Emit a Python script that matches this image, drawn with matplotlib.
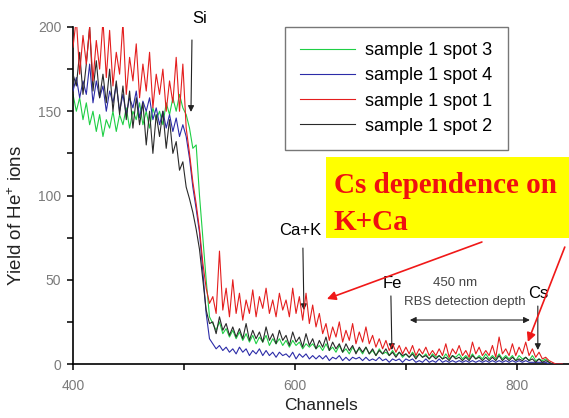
import numpy as np
import matplotlib
matplotlib.use("Agg")
import matplotlib.pyplot as plt
from matplotlib.patches import Rectangle
from matplotlib.ticker import MultipleLocator

plt.rcParams['font.family'] = ['Liberation Sans', 'DejaVu Sans']
plt.rcParams['mathtext.default'] = 'regular'

# RBS spectra, one value every 3 channels starting at channel 400
first_channel = 400
channel_step = 3

spot3 = [  # green
    160, 150, 158, 145, 155, 142, 150, 138, 148, 135,
    145, 140, 150, 138, 148, 142, 152, 140, 150, 145,
    155, 142, 150, 140, 152, 145, 150, 142, 155, 148,
    158, 150, 160, 152,
    148, 140, 128, 130, 100, 75, 50, 28,
    24, 20, 25, 18, 21, 16, 20, 15, 19, 14,
    18, 13, 17, 12, 16, 13, 17, 11, 15, 12,
    15, 11, 14, 10, 14, 11, 13, 9, 12, 10,
    12, 9, 11, 8, 12, 8, 10, 7, 11, 7,
    9, 6, 10, 7, 9, 6, 10, 6, 8, 5,
    9, 6, 7, 5, 8, 5, 7, 4, 6, 4,
    7, 4, 6, 4, 6, 3, 6, 4, 5, 3,
    6, 3, 5, 4, 6, 3, 5, 3, 6, 3,
    5, 3, 6, 3, 5, 3, 6, 3, 5, 3,
    5, 2, 5, 3, 4, 2, 5, 2, 3, 2,
    3, 1, 0, 0, 0, 0,
]

spot4 = [  # blue
    162, 170, 158, 168, 160, 178, 155, 168, 158, 165,
    150, 162, 155, 166, 150, 160, 148, 158, 152, 162,
    146, 156, 150, 158, 145, 152, 142, 150, 140, 148,
    138, 146, 135, 142,
    135, 122, 105, 92, 78, 55, 30, 15,
    12, 9, 11, 8, 10, 7, 9, 6, 10, 7,
    9, 5, 8, 6, 9, 5, 8, 5, 7, 4,
    7, 5, 6, 4, 7, 3, 6, 4, 6, 3,
    5, 3, 5, 3, 5, 2, 4, 3, 5, 2,
    4, 2, 4, 3, 4, 2, 4, 2, 3, 2,
    4, 2, 3, 1, 3, 2, 3, 1, 3, 2,
    3, 1, 2, 1, 3, 1, 2, 1, 3, 1,
    2, 1, 2, 1, 2, 1, 2, 1, 2, 1,
    2, 1, 2, 1, 2, 1, 2, 1, 2, 1,
    2, 1, 2, 1, 2, 1, 1, 1, 1, 1,
    1, 0, 0, 0, 0, 0,
]

spot1 = [  # red
    188, 205, 172, 195, 178, 200, 168, 192, 175, 204,
    170, 198, 165, 185, 172, 203, 160, 182, 168, 190,
    158, 178, 162, 185, 152, 172, 160, 175, 150, 168,
    155, 182, 150, 178,
    140, 125, 108, 95, 80, 60, 45, 36,
    40, 30, 67, 32, 45, 28, 50, 30, 42, 26,
    38, 30, 44, 28, 40, 33, 45, 30, 38, 28,
    42, 32, 38, 28, 45, 30, 40, 26, 42, 24,
    35, 22, 30, 18, 24, 14, 22, 16, 25, 13,
    20, 14, 24, 12, 19, 13, 22, 12, 17, 10,
    15, 9, 14, 8, 12, 7, 11, 6, 10, 6,
    11, 5, 9, 6, 10, 5, 8, 5, 9, 5,
    12, 4, 9, 6, 11, 5, 8, 4, 13, 6,
    10, 5, 8, 5, 11, 4, 16, 6, 9, 5,
    12, 5, 10, 6, 13, 5, 9, 4, 7, 3,
    4, 2, 1, 0, 0, 0,
]

spot2 = [  # black
    172, 165, 185, 160, 178, 200, 162, 180, 158, 172,
    155, 175, 150, 168, 148, 165, 145, 162, 140, 158,
    142, 155, 130, 150, 125, 148, 135, 150, 128, 145,
    125, 132, 115, 120,
    105, 98, 90, 80, 68, 50, 32, 24,
    25, 18, 28, 20, 24, 17, 22, 16, 21, 15,
    24, 14, 20, 15, 19, 13, 22, 14, 18, 12,
    20, 14, 17, 11, 19, 13, 16, 10, 18, 11,
    15, 9, 14, 10, 16, 8, 13, 9, 12, 7,
    12, 8, 11, 6, 10, 7, 10, 6, 9, 5,
    8, 6, 9, 5, 7, 4, 7, 5, 6, 4,
    6, 3, 6, 4, 5, 3, 5, 3, 5, 3,
    4, 2, 5, 3, 4, 2, 4, 2, 5, 3,
    4, 2, 4, 2, 4, 2, 5, 2, 4, 2,
    4, 2, 3, 2, 4, 2, 3, 1, 3, 1,
    2, 1, 0, 0, 0, 0,
]

series_labels = ["sample 1 spot 3", "sample 1 spot 4", "sample 1 spot 1", "sample 1 spot 2"]
series_colors = ["#1fcf45", "#2c2ca8", "#e41e1e", "#2a2a2a"]


def channels(values):
    return first_channel + channel_step * np.arange(len(values))


fig = plt.figure(figsize=(5.69, 4.18), dpi=100)
W, H = 569, 418
ax = fig.add_axes([73 / W, 54 / H, 496 / W, 337 / H])

lw = 0.8
l_green, = ax.plot(channels(spot3), spot3, color=series_colors[0], lw=lw, zorder=2)
l_blue, = ax.plot(channels(spot4), spot4, color=series_colors[1], lw=lw, zorder=3)
l_black, = ax.plot(channels(spot2), spot2, color=series_colors[3], lw=lw, zorder=4)
l_red, = ax.plot(channels(spot1), spot1, color=series_colors[2], lw=lw, zorder=5)

ax.set_xlim(400, 847)
ax.set_ylim(0, 200)
for side in ("top", "right"):
    ax.spines[side].set_visible(False)
for side in ("left", "bottom"):
    ax.spines[side].set_linewidth(1.2)

ax.xaxis.set_major_locator(MultipleLocator(200))
ax.xaxis.set_minor_locator(MultipleLocator(100))
ax.yaxis.set_major_locator(MultipleLocator(50))
ax.yaxis.set_minor_locator(MultipleLocator(25))
ax.tick_params(axis="both", which="both", direction="out", width=1.1,
               labelsize=10, labelcolor="#7a7a7a")
ax.tick_params(axis="both", which="major", length=4.5)
ax.tick_params(axis="both", which="minor", length=4)
ax.tick_params(axis="x", which="major", pad=6)
ax.tick_params(axis="y", which="major", pad=4)

ax.set_xlabel("Channels", fontsize=12.5, color="#222222")
ax.xaxis.set_label_coords(0.5, -0.102)
ax.set_ylabel("Yield of He$^{+}$ ions", fontsize=13.5, color="#222222")
ax.yaxis.set_label_coords(-0.095, 0.44)

fig.legend([l_green, l_blue, l_red, l_black], series_labels,
           loc="upper left", bbox_to_anchor=(285 / W, 391 / H),
           bbox_transform=fig.transFigure, frameon=True, fancybox=False,
           edgecolor="#555555", fontsize=13, handlelength=3.0,
           handletextpad=0.6, borderpad=0.85, labelspacing=0.45,
           borderaxespad=0).get_frame().set_linewidth(1.0)

# element markers
arrow_black = dict(arrowstyle="-|>", color="#222222", lw=0.8,
                   mutation_scale=9, shrinkA=0, shrinkB=0)
ax.text(514, 205, "Si", fontsize=12, ha="center", va="center", clip_on=False)
ax.annotate("", xy=(506.3, 149.6), xytext=(507.2, 192.3), arrowprops=arrow_black)
ax.text(604.5, 79.5, "Ca+K", fontsize=12, ha="center", va="center")
ax.annotate("", xy=(608.1, 32), xytext=(607.2, 68.8), arrowprops=arrow_black)
ax.text(687.4, 48, "Fe", fontsize=12, ha="center", va="center")
ax.annotate("", xy=(687.4, 8.3), xytext=(686.5, 40.4), arrowprops=arrow_black)
ax.text(818.9, 42.1, "Cs", fontsize=12, ha="center", va="center")
ax.annotate("", xy=(818.9, 8.3), xytext=(818.9, 34.4), arrowprops=arrow_black)

ax.text(744, 48, "450 nm", fontsize=9.5, ha="center", va="center", color="#444444")
ax.text(753, 36.8, "RBS detection depth", fontsize=9.5, ha="center", va="center",
        color="#444444")
ax.annotate("", xy=(703.6, 26.1), xytext=(811.7, 26.1),
            arrowprops=dict(arrowstyle="<|-|>", color="#222222", lw=0.8,
                            mutation_scale=9, shrinkA=0, shrinkB=0))

# highlighted note
fig.patches.append(Rectangle((326 / W, 180 / H), 243 / W, 81 / H,
                             transform=fig.transFigure, facecolor="#ffff00",
                             edgecolor="none", zorder=6))
note_style = dict(fontsize=21, fontweight="bold", color="#f01010",
                  family=["Liberation Serif", "DejaVu Serif"], va="baseline",
                  ha="left", zorder=7)
fig.text(334 / W, (H - 193) / H, "Cs dependence on", **note_style)
fig.text(334 / W, (H - 230) / H, "K+Ca", **note_style)

arrow_red = dict(arrowstyle="-|>", color="#f01818", lw=1.2,
                 mutation_scale=13, shrinkA=0, shrinkB=0)
ax.annotate("", xy=(628.8, 38.6), xytext=(768.5, 72.4), arrowprops=arrow_red)
ax.annotate("", xy=(809.9, 13.1), xytext=(843.2, 69.4), arrowprops=arrow_red)

fig.savefig("out.png", dpi=100)
